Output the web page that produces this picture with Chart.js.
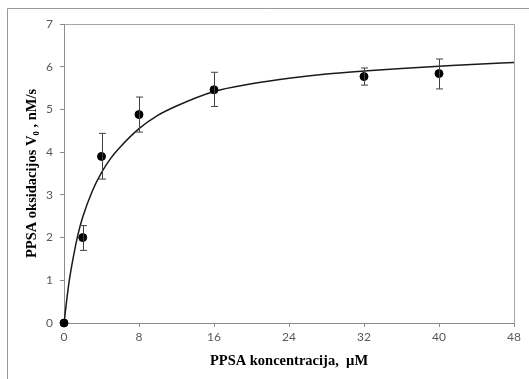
<!DOCTYPE html>
<html>
<head>
<meta charset="utf-8">
<script src="https://cdn.jsdelivr.net/npm/chart.js@4"></script>
<style>
  html, body { margin: 0; padding: 0; background: #fff; }
  #wrap { width: 529px; height: 379px; }
</style>
</head>
<body>
<div id="wrap"><canvas id="kineticsChart" width="529" height="379"></canvas></div>
<script>
// matavimų taškai
const concentration = [0, 2, 4, 8, 16, 32, 40];
const rate = [0, 2.0, 3.9, 4.88, 5.46, 5.77, 5.84];
const errLow = [0, 1.7, 3.37, 4.47, 5.07, 5.57, 5.48];
const errHigh = [0, 2.28, 4.44, 5.29, 5.87, 5.97, 6.18];

// pritaikyta kreivė (nuskaityta nuo paveikslo)
const fitX = [0, 0.5, 1, 1.5, 2, 3, 4, 5, 6, 8, 10, 12, 16, 20, 24, 28, 32, 36, 40, 44, 48];
const fitY = [0, 0.9, 1.55, 2.08, 2.48, 3.08, 3.52, 3.86, 4.12, 4.55, 4.86, 5.08, 5.42, 5.6, 5.73, 5.83, 5.9, 5.96, 6.01, 6.06, 6.1];

const xTicks = [0, 8, 16, 24, 32, 40, 48];
const yTicks = [0, 1, 2, 3, 4, 5, 6, 7];

const points = concentration.map((x, i) => ({ x: x, y: rate[i] }));
const curve = fitX.map((x, i) => ({ x: x, y: fitY[i] }));

// rėmeliai ir paklaidų stulpeliai
const framePlugin = {
  id: 'frame',
  beforeDraw(chart) {
    const ctx = chart.ctx;
    ctx.save();
    ctx.fillStyle = '#fff';
    ctx.fillRect(0, 0, chart.width, chart.height);
    ctx.strokeStyle = '#9a9a9a';
    ctx.lineWidth = 1;
    ctx.beginPath();
    ctx.moveTo(7.5, chart.height + 5);
    ctx.lineTo(7.5, 8.5);
    ctx.lineTo(chart.width + 5, 8.5);
    ctx.stroke();
    const a = chart.chartArea;
    ctx.strokeStyle = '#a6a6a6';
    ctx.strokeRect(a.left + 0.5, a.top + 0.5, a.right - a.left, a.bottom - a.top);
    ctx.restore();
  },
  afterDatasetsDraw(chart) {
    const ctx = chart.ctx;
    const xs = chart.scales.x, ys = chart.scales.y;
    ctx.save();
    ctx.strokeStyle = '#404040';
    ctx.lineWidth = 1;
    concentration.forEach((c, i) => {
      if (errHigh[i] === errLow[i]) return;
      const px = Math.round(xs.getPixelForValue(c)) + 0.5;
      const top = ys.getPixelForValue(errHigh[i]);
      const bot = ys.getPixelForValue(errLow[i]);
      ctx.beginPath();
      ctx.moveTo(px, top); ctx.lineTo(px, bot);
      ctx.moveTo(px - 3.5, top); ctx.lineTo(px + 3.5, top);
      ctx.moveTo(px - 3.5, bot); ctx.lineTo(px + 3.5, bot);
      ctx.stroke();
    });
    ctx.restore();
  }
};

const tickFont = { family: 'Lato', size: 12 };
const titleFont = { family: 'Liberation Serif', size: 14.5, weight: 'bold' };

new Chart(document.getElementById('kineticsChart'), {
  type: 'scatter',
  data: {
    datasets: [
      {
        data: curve,
        showLine: true,
        borderColor: '#1a1a1a',
        borderWidth: 1.5,
        pointRadius: 0,
        cubicInterpolationMode: 'monotone',
        order: 2
      },
      {
        data: points,
        backgroundColor: '#000',
        borderColor: '#000',
        pointRadius: 4,
        clip: false,
        order: 1
      }
    ]
  },
  options: {
    responsive: false,
    animation: false,
    layout: { padding: { left: 0, top: 24, right: 15, bottom: 0 } },
    plugins: { legend: { display: false }, tooltip: { enabled: false } },
    scales: {
      x: {
        type: 'linear',
        min: 0, max: 48,
        afterBuildTicks: s => { s.ticks = xTicks.map(v => ({ value: v })); },
        afterFit: s => { s.height = 56; },
        ticks: { color: '#595959', font: tickFont, padding: 3, maxRotation: 0 },
        grid: { drawOnChartArea: false, drawTicks: true, tickLength: 4, color: '#8c8c8c' },
        border: { color: '#8c8c8c' },
        title: {
          display: true,
          text: 'PPSA koncentracija,  µM',
          color: '#000',
          font: titleFont,
          padding: { top: 0, bottom: 9 }
        }
      },
      y: {
        min: 0, max: 7,
        afterBuildTicks: s => { s.ticks = yTicks.map(v => ({ value: v })); },
        afterFit: s => { s.width = 64; },
        ticks: { color: '#595959', font: tickFont, padding: 7 },
        grid: { drawOnChartArea: false, drawTicks: true, tickLength: 4, color: '#8c8c8c' },
        border: { color: '#8c8c8c' },
        title: {
          display: true,
          text: 'PPSA oksidacijos V₀ , nM/s',
          color: '#000',
          font: titleFont,
          padding: { top: 24, bottom: 0 }
        }
      }
    }
  },
  plugins: [framePlugin]
});
</script>
</body>
</html>
